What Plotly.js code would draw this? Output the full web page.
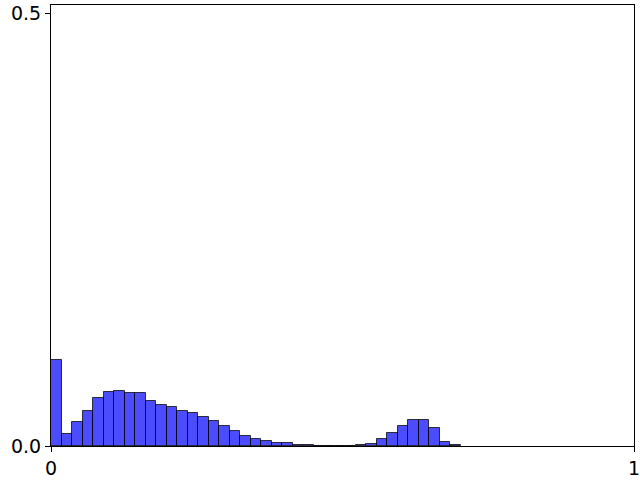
<!DOCTYPE html>
<html>
<head>
<meta charset="utf-8">
<script src="https://cdn.plot.ly/plotly-3.0.1.min.js"></script>
<style>body{margin:0;} #plot{width:640px;height:480px;}</style>
</head>
<body>
<div id="plot"></div>
<script>
// histogram bin heights (normalised)
var binWidth = 0.01803;
var heights = [0.099, 0.0135, 0.0277, 0.041, 0.055, 0.063, 0.064, 0.061, 0.061, 0.0516,
  0.0473, 0.0447, 0.0404, 0.0378, 0.033, 0.0285, 0.0227, 0.017, 0.0112, 0.0077,
  0.0054, 0.0031, 0.0031, 0.0012, 0.0012, 0, 0, 0, 0, 0.0015,
  0.0027, 0.0077, 0.0146, 0.0227, 0.0297, 0.0297, 0.0204, 0.005, 0.0012];
var xTicks = [0, 1];
var xLabels = ['0', '1'];
var yTicks = [0, 0.5];
var yLabels = ['0.0', '0.5'];

var centers = heights.map(function (h, i) { return (i + 0.5) * binWidth; });

var trace = {
  x: centers,
  y: heights,
  width: binWidth,
  type: 'bar',
  marker: {
    color: 'rgba(0,0,255,0.7)',
    line: {color: 'rgba(0,0,0,0.75)', width: 1}
  }
};

var layout = {
  width: 640,
  height: 480,
  margin: {l: 51, r: 6, t: 5, b: 34},
  paper_bgcolor: 'white',
  plot_bgcolor: 'white',
  showlegend: false,
  bargap: 0,
  font: {family: 'DejaVu Sans', size: 19, color: 'black'},
  xaxis: {
    range: [0, 1],
    tickvals: xTicks,
    ticktext: xLabels,
    ticklabeloverflow: 'allow',
    showgrid: false,
    zeroline: false,
    showline: true,
    mirror: true,
    linecolor: 'black',
    linewidth: 1,
    ticks: 'outside',
    ticklen: 5,
    tickcolor: 'black'
  },
  yaxis: {
    range: [0, 0.51],
    tickvals: yTicks,
    ticktext: yLabels,
    ticklabeloverflow: 'allow',
    showgrid: false,
    zeroline: false,
    showline: true,
    mirror: true,
    linecolor: 'black',
    linewidth: 1,
    ticks: 'outside',
    ticklen: 5,
    tickcolor: 'black'
  }
};

Plotly.newPlot('plot', [trace], layout, {displayModeBar: false});
</script>
</body>
</html>
